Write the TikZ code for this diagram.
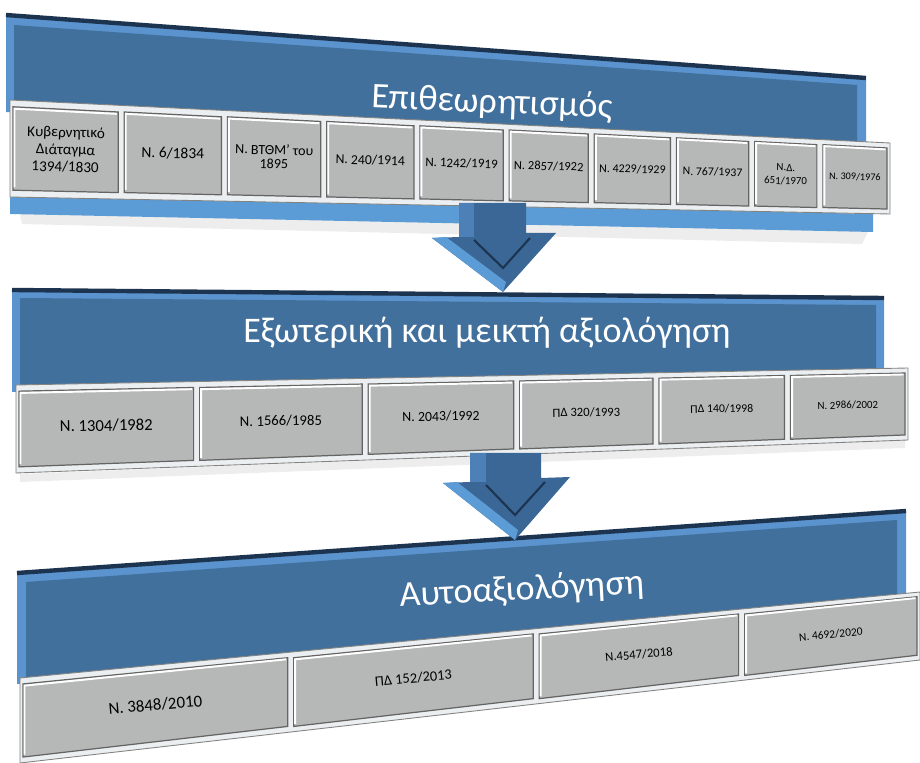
\documentclass[tikz,border=0pt]{standalone}
\usepackage{fontspec}
\setmainfont{Carlito}
\usetikzlibrary{calc}
\definecolor{HdrBlue}{RGB}{65,112,156}
\definecolor{RimBlue}{RGB}{90,147,205}
\definecolor{EdgeBlue}{RGB}{28,52,80}
\definecolor{LBlue}{RGB}{92,156,214}
\definecolor{ArrBlue}{RGB}{58,103,150}
\definecolor{ArrMid}{RGB}{76,128,182}
\definecolor{BoxGray}{RGB}{182,184,183}
\definecolor{BoxRim}{RGB}{236,239,241}
\definecolor{BoxDark}{RGB}{100,100,98}
\tikzset{
  rim/.style={fill=RimBlue},
  hdr/.style={fill=HdrBlue},
  hdredge/.style={draw=EdgeBlue, line width=2.5},
  rowframe/.style={fill=BoxRim, draw=BoxDark!80, line width=.5},
  cell/.style={fill=BoxGray, draw=BoxDark, line width=.7},
  lawtxt/.style={text=black, align=center, inner sep=0pt},
  title/.style={text=white, font=\fontsize{20.5}{24}\selectfont, inner sep=0pt},
  arrowbody/.style={fill=ArrBlue}
}

\begin{document}
\begin{tikzpicture}[x=0.02cm,y=-0.02cm]
\useasboundingbox (0,0) rectangle (920,763);

% first panel
\fill[rim] (6,15) -- (866,78) -- (866,152) -- (6,112) -- cycle;
\fill[hdr] (14,25) -- (857,85) -- (857,152) -- (14,112) -- cycle;
\draw[hdredge] (6,15) -- (866,78);
\fill[black,opacity=.07] (18,206) -- (870,228) -- (862,244) -- (22,224) -- cycle;
\fill[LBlue] (10,194) -- (873,214) -- (873,232) -- (10,214) -- cycle;
\coordinate (r1tl) at (10,100); \coordinate (r1tr) at (890,143);
\coordinate (r1bl) at (10,197); \coordinate (r1br) at (890,214);
\filldraw[rowframe] (r1tl) -- (r1tr) -- (r1br) -- (r1bl) -- cycle;

% second panel
\fill[rim] (12,290) -- (884,298) -- (884,378) -- (12,392) -- cycle;
\fill[hdr] (20,298) -- (876,305) -- (876,378) -- (20,392) -- cycle;
\draw[hdredge] (12,290) -- (884,298);
\fill[black,opacity=.07] (20,474) -- (905,440) -- (905,448) -- (20,482) -- cycle;
\coordinate (r2tl) at (16,385); \coordinate (r2tr) at (908,368);
\coordinate (r2bl) at (16,473); \coordinate (r2br) at (908,440);
\filldraw[rowframe] (r2tl) -- (r2tr) -- (r2br) -- (r2bl) -- cycle;

% third panel
\fill[rim] (17,573) -- (906,511) -- (906,600) -- (17,684) -- cycle;
\fill[hdr] (26,582) -- (897,520) -- (897,600) -- (26,684) -- cycle;
\draw[hdredge] (17,573) -- (906,511);
\coordinate (r3tl) at (20,678); \coordinate (r3tr) at (920,592);
\coordinate (r3bl) at (20,763); \coordinate (r3br) at (920,660);
\filldraw[rowframe] (r3tl) -- (r3tr) -- (r3br) -- (r3bl) -- cycle;

\foreach \r/\a/\b/\fs/\bs/\ang/\txt [count=\i] in {
  1/0/.1264/8.6/9.8/-1.5/{Κυβερνητικό\\Διάταγμα\\1394/1830},
  1/.1264/.2437/8.8/10/-1.5/{Ν. 6/1834},
  1/.2437/.3565/8/8/-1.5/{Ν. ΒΤΘΜ’ του\\1895},
  1/.3565/.4624/7.8/9/-1.5/{Ν. 240/1914},
  1/.4624/.5638/7.4/9/-1.5/{Ν. 1242/1919},
  1/.5638/.6606/7.1/9/-1.5/{Ν. 2857/1922},
  1/.6606/.7540/6.8/9/-1.5/{Ν. 4229/1929},
  1/.7540/.8428/6.7/9/-1.5/{Ν. 767/1937},
  1/.8428/.9203/6.2/7.6/-1.5/{Ν.Δ.\\651/1970},
  1/.9203/1/5.8/7/-1.5/{Ν. 309/1976},
  2/0/.2025/9.5/11/1/{Ν. 1304/1982},
  2/.2025/.3915/8.4/10/1/{Ν. 1566/1985},
  2/.3915/.5613/7.9/10/1/{Ν. 2043/1992},
  2/.5613/.7176/7.2/9/1/{ΠΔ 320/1993},
  2/.7176/.8650/6.7/8/1/{ΠΔ 140/1998},
  2/.8650/1/6.2/8/1/{Ν. 2986/2002},
  3/0/.3007/9.6/11/5/{Ν. 3848/2010},
  3/.3007/.5735/8.2/10/5/{ΠΔ 152/2013},
  3/.5735/.8018/7.2/9/5/{Ν.4547/2018},
  3/.8018/1/6.5/8/5/{Ν. 4692/2020}} {
  \coordinate (ta) at ($(r\r tl)!\a!(r\r tr)$);
  \coordinate (tb) at ($(r\r tl)!\b!(r\r tr)$);
  \coordinate (ba) at ($(r\r bl)!\a!(r\r br)$);
  \coordinate (bb) at ($(r\r bl)!\b!(r\r br)$);
  \filldraw[cell] ($(ta)!.07!(ba)+(3,0)$) -- ($(tb)!.07!(bb)+(-3,0)$)
    -- ($(tb)!.93!(bb)+(-3,0)$) -- ($(ta)!.93!(ba)+(3,0)$) -- cycle;
  \draw[white, line width=1.1] ($(ta)!.90!(ba)+(4.5,0)$) -- ($(ta)!.09!(ba)+(4.5,0)$)
    -- ($(tb)!.09!(bb)+(-4.5,0)$);
  \node[lawtxt, font=\fontsize{\fs}{\bs}\selectfont, rotate=\ang] (law\i)
    at ($(ta)!.5!(bb)$) {\txt};
}

\node[title, rotate=-2.5] (insp) at (492,103) {Επιθεωρητισμός};
\node[title] (ext) at (487,333) {Εξωτερική και μεικτή αξιολόγηση};
\node[title, rotate=3] (selfev) at (522,590) {Αυτοαξιολόγηση};

% arrows
\fill[arrowbody] (459,203) -- (526,203) -- (526,233) -- (556,233) -- (503,292)
  -- (432,238) -- (459,237) -- cycle;
\fill[ArrMid] (459,203) -- (474,203) -- (474,237) -- (459,237) -- cycle;
\fill[LBlue] (432,238) -- (446,237) -- (506,282) -- (503,292) -- cycle;
\draw[EdgeBlue, line width=1.2] (474,240) -- (503,268) -- (530,238);

\fill[arrowbody] (470,453) -- (541,453) -- (541,478) -- (570,477) -- (515,540)
  -- (443,483) -- (470,482) -- cycle;
\fill[ArrMid] (470,453) -- (486,453) -- (486,482) -- (470,482) -- cycle;
\fill[LBlue] (443,483) -- (457,482) -- (518,530) -- (515,540) -- cycle;
\draw[EdgeBlue, line width=1.2] (486,485) -- (515,515) -- (545,482);
\end{tikzpicture}
\end{document}
